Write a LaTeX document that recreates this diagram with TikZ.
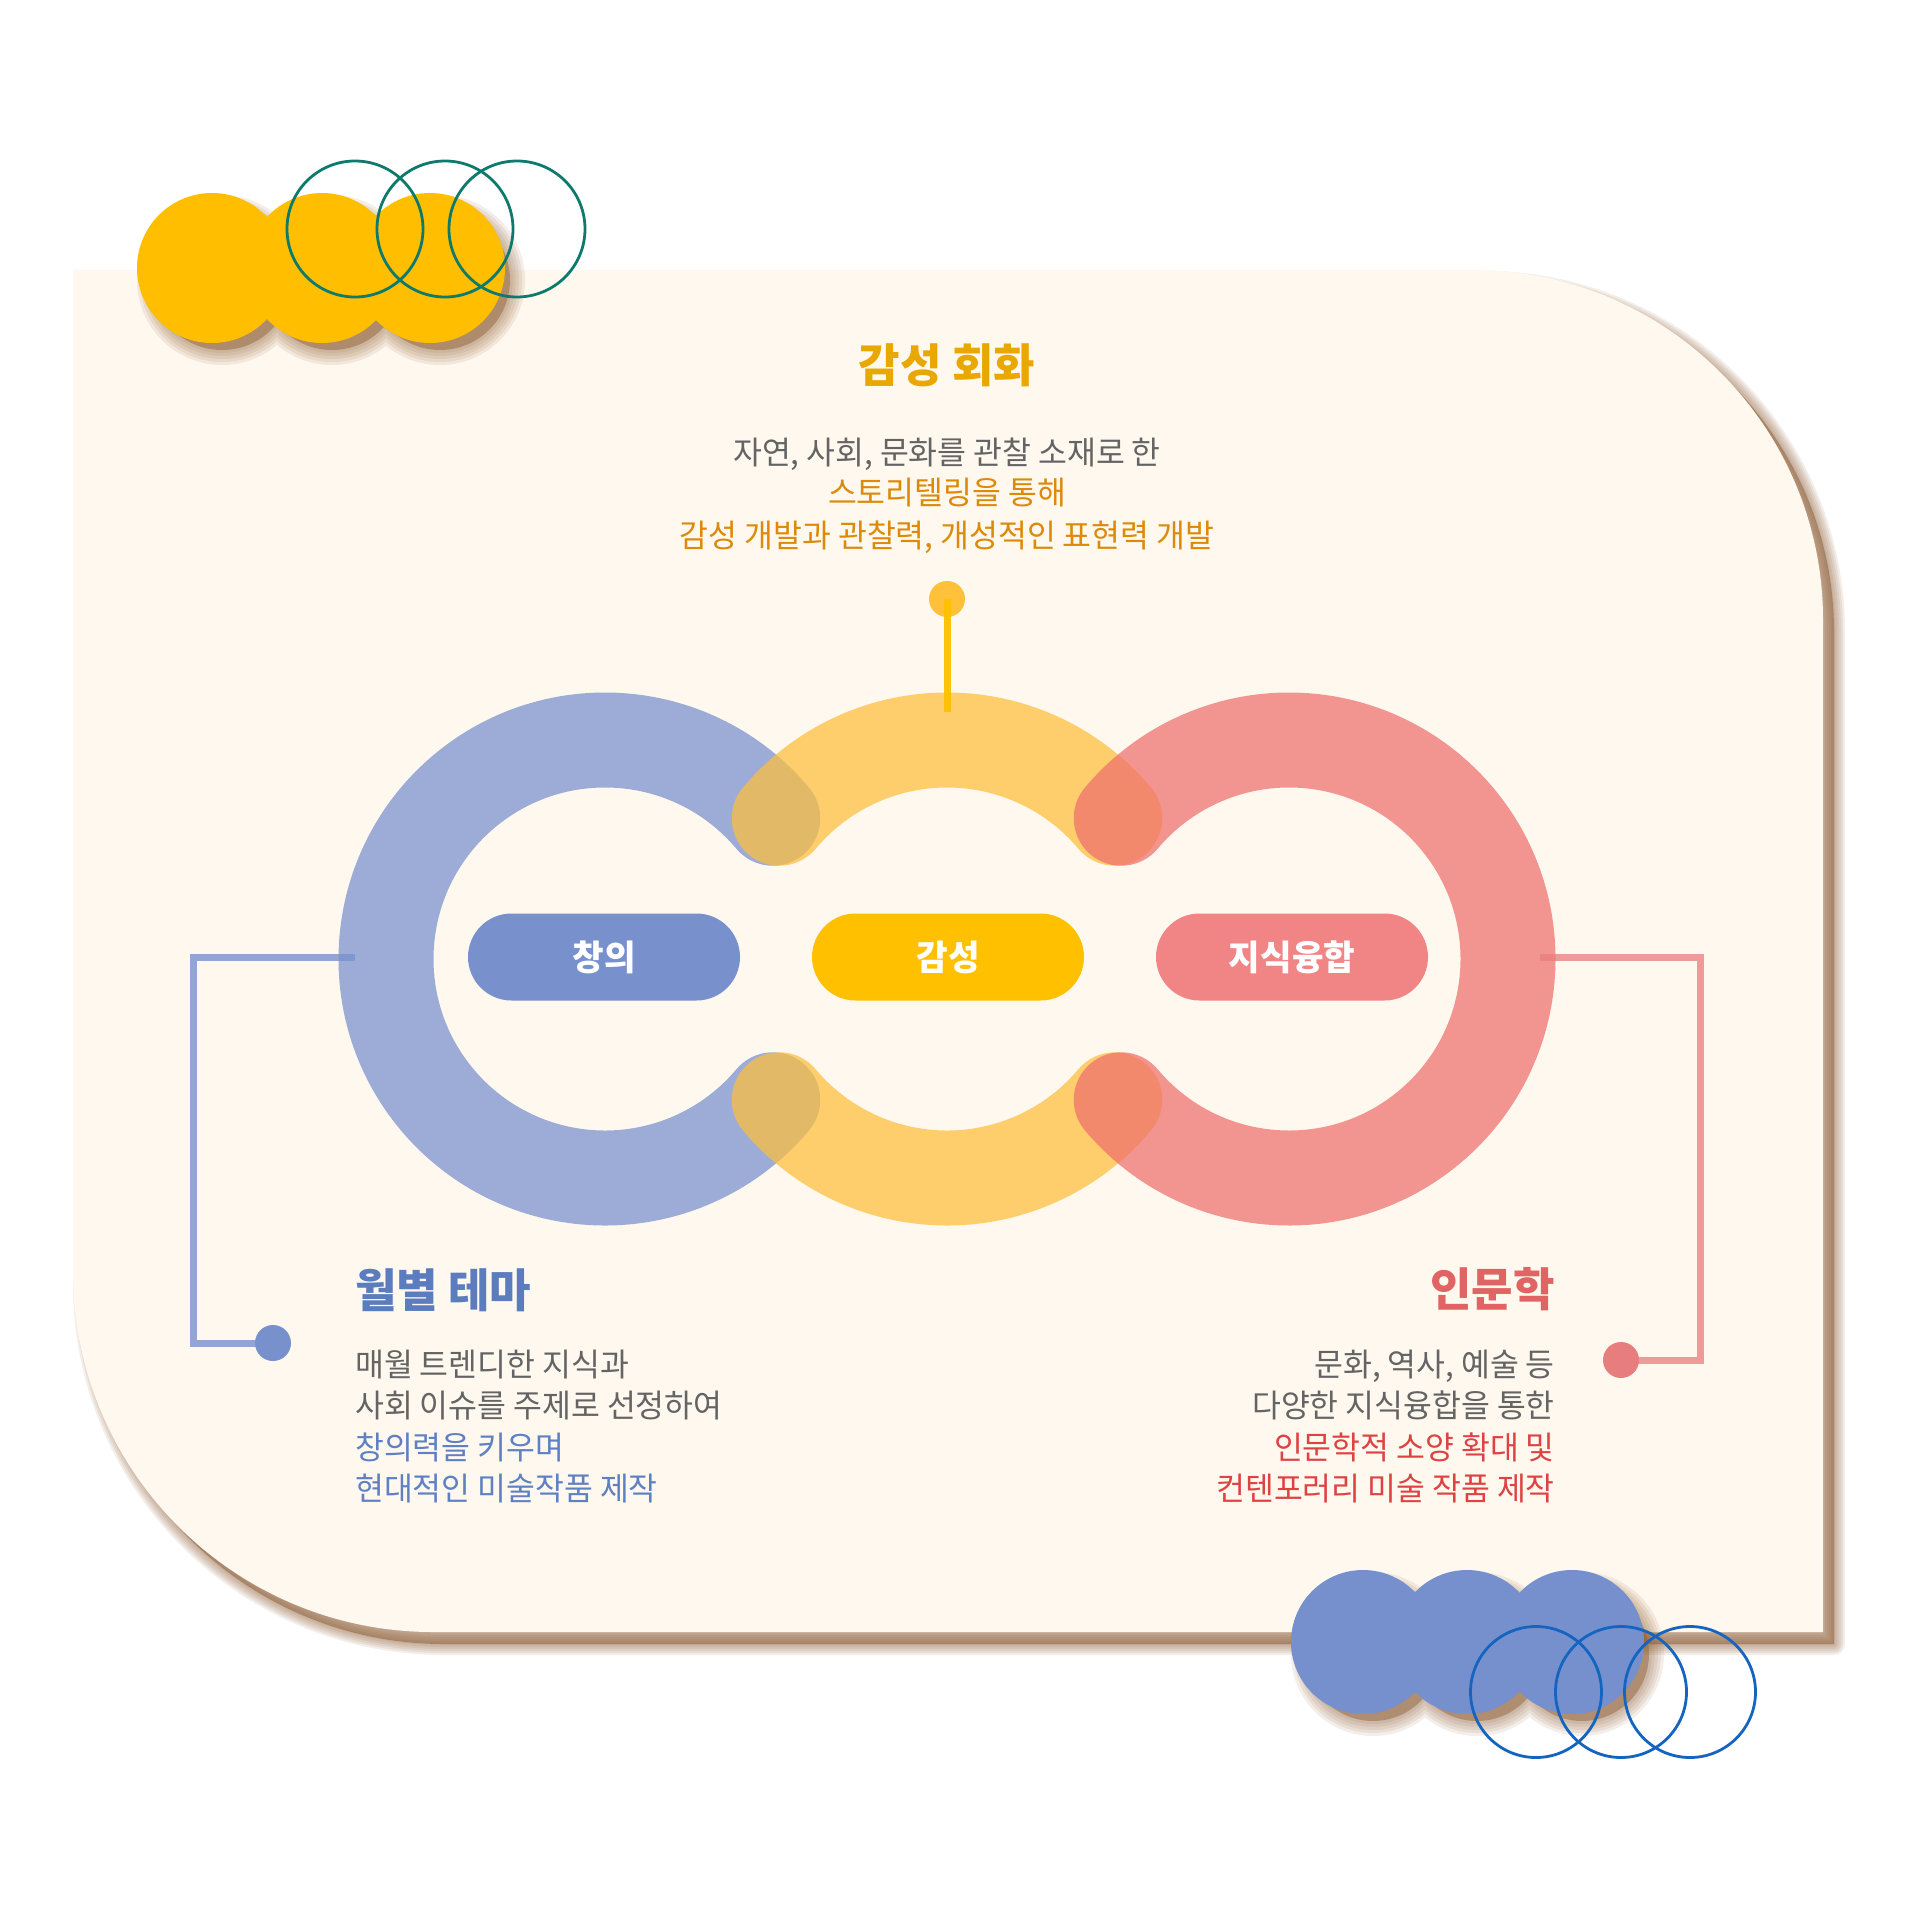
\documentclass[tikz,border=0pt]{standalone}
\usepackage{fontspec}
\setmainfont{Noto Sans CJK KR}[FakeStretch=0.98]
\usetikzlibrary{shapes.misc}
\definecolor{cream}{HTML}{FEF8EE}
\definecolor{shadowc}{HTML}{8A5A30}
\definecolor{ringblue}{HTML}{7890CF}
\definecolor{ringyellow}{HTML}{FEBF3C}
\definecolor{ringred}{HTML}{EE6F6C}
\definecolor{pillblue}{HTML}{7891CD}
\definecolor{pillyellow}{HTML}{FFC000}
\definecolor{pillred}{HTML}{F18585}
\definecolor{titleyellow}{HTML}{E8A800}
\definecolor{textorange}{HTML}{DD8A0A}
\definecolor{textgray}{HTML}{646464}
\definecolor{titleblue}{HTML}{5B7CBF}
\definecolor{textblue}{HTML}{5F80C3}
\definecolor{titlered}{HTML}{E06464}
\definecolor{textred}{HTML}{DE4242}
\definecolor{decoyellow}{HTML}{FFBE00}
\definecolor{decoblue}{HTML}{7590CC}
\definecolor{tealline}{HTML}{0E7A6B}
\definecolor{blueline}{HTML}{1565C0}
\definecolor{dotyellow}{HTML}{FFC03A}
\definecolor{dotred}{HTML}{E87D7D}
\tikzset{
  cardpath/.style={insert path={(73,270) -- (1473,270) arc[start angle=90, end angle=0, radius=350pt] -- (1823,1632) -- (433,1632) arc[start angle=270, end angle=180, radius=360pt] -- cycle}},
  ring/.style={line width=95pt, line cap=round, draw opacity=0.72},
  pill/.style={rounded rectangle, minimum width=272pt, minimum height=87pt, inner sep=0pt, text=white, font=\fontsize{35}{40}\selectfont\bfseries},
  dotnode/.style={circle, minimum size=36pt, inner sep=0pt},
  conn/.style={line width=7pt},
  titletext/.style={inner sep=0pt, font=\fontsize{46}{52}\selectfont\bfseries},
  bodytext/.style={inner sep=0pt, font=\fontsize{32}{42}\selectfont},
  decoring/.style={line width=2.8pt, fill=none},
}
\begin{document}
\begin{tikzpicture}[x=1pt,y=-1pt]
\useasboundingbox (0,0) rectangle (1920,1919);
\fill[white] (0,0) rectangle (1920,1919);

% card shadow
\begin{scope}[shift={(11,12)}]
  \foreach \w in {22,18,14,10,6,2} {\draw[shadowc, opacity=0.1, line width=\w pt, line join=round, cardpath];}
  \fill[shadowc, opacity=0.5, cardpath];
\end{scope}
% card
\fill[cream, cardpath];

% rings
\draw[ring, ringblue] (605,959) ++(40:219pt) arc[start angle=40, end angle=320, radius=219pt];
\draw[ring, ringyellow] (947,959) ++(40:219pt) arc[start angle=40, end angle=140, radius=219pt];
\draw[ring, ringyellow] (947,959) ++(220:219pt) arc[start angle=220, end angle=320, radius=219pt];
\draw[ring, ringred] (1289,959) ++(-140:219pt) arc[start angle=-140, end angle=140, radius=219pt];

% connectors
\node[dotnode, fill=dotyellow] (ydot) at (947,599) {};
\coordinate (yend) at (947,712);
\draw[conn, pillyellow, opacity=0.95] (ydot.center) -- (yend);

\coordinate (bstart) at (355,957);
\coordinate (bcorner) at (193,957);
\draw[conn, pillblue, opacity=0.8] (bstart) -- (bcorner) |- (273,1343);
\node[dotnode, fill=pillblue] (bdot) at (273,1343) {};

\coordinate (rstart) at (1540,957);
\coordinate (rcorner) at (1700,957);
\draw[conn, dotred, opacity=0.75] (rstart) -- (rcorner) |- (1621,1360);
\node[dotnode, fill=dotred] (rdot) at (1621,1360) {};

% pills
\node[pill, fill=pillblue] (pblue) at (604,957) {창의};
\node[pill, fill=pillyellow] (pyellow) at (948,957) {감성};
\node[pill, fill=pillred] (pred) at (1292,957) {지식융합};

% top text
\node[titletext, text=titleyellow, anchor=base] (ttop) at (947,382) {감성 회화};
\node[bodytext, text=textgray, anchor=base] (top1) at (947,464) {자연, 사회, 문화를 관찰 소재로 한};
\node[bodytext, text=textorange, anchor=base] (top2) at (947,504) {스토리텔링을 통해};
\node[bodytext, text=textorange, anchor=base] (top3) at (947,547) {감성 개발과 관찰력, 개성적인 표현력 개발};

% left text
\node[titletext, text=titleblue, anchor=base west] (tleft) at (355,1307) {월별 테마};
\node[bodytext, text=textgray, anchor=base west] (left1) at (355,1376) {매월 트렌디한 지식과};
\node[bodytext, text=textgray, anchor=base west] (left2) at (355,1417) {사회 이슈를 주제로 선정하여};
\node[bodytext, text=textblue, anchor=base west] (left3) at (355,1459) {창의력을 키우며};
\node[bodytext, text=textblue, anchor=base west] (left4) at (355,1500) {현대적인 미술작품 제작};

% right text
\node[titletext, text=titlered, anchor=base east] (tright) at (1555,1306) {인문학};
\node[bodytext, text=textgray, anchor=base east] (right1) at (1555,1376) {문화, 역사, 예술 등};
\node[bodytext, text=textgray, anchor=base east] (right2) at (1555,1417) {다양한 지식융합을 통한};
\node[bodytext, text=textred, anchor=base east] (right3) at (1555,1459) {인문학적 소양 확대 및};
\node[bodytext, text=textred, anchor=base east] (right4) at (1555,1500) {컨텐포러리 미술 작품 제작};

% top-left decoration
\begin{scope}[shift={(10,12)}]
  \foreach \r in {85,82,79,76,73} {\fill[shadowc, opacity=0.1] (212,268) circle[radius=\r pt] (322,268) circle[radius=\r pt] (430,268) circle[radius=\r pt];}
  \fill[shadowc, opacity=0.45] (212,268) circle[radius=70pt] (322,268) circle[radius=70pt] (430,268) circle[radius=70pt];
\end{scope}
\fill[decoyellow] (212,268) circle[radius=75pt] (322,268) circle[radius=75pt] (430,268) circle[radius=75pt];
\draw[decoring, tealline] (355,229) circle[radius=68pt];
\draw[decoring, tealline] (445,229) circle[radius=68pt];
\draw[decoring, tealline] (517,229) circle[radius=68pt];

% bottom-right decoration
\begin{scope}[shift={(10,12)}]
  \foreach \r in {82,79,76,73,70} {\fill[shadowc, opacity=0.1] (1363,1642) circle[radius=\r pt] (1467,1642) circle[radius=\r pt] (1572,1642) circle[radius=\r pt];}
  \fill[shadowc, opacity=0.45] (1363,1642) circle[radius=67pt] (1467,1642) circle[radius=67pt] (1572,1642) circle[radius=67pt];
\end{scope}
\fill[decoblue] (1363,1642) circle[radius=72pt] (1467,1642) circle[radius=72pt] (1572,1642) circle[radius=72pt];
\draw[decoring, blueline] (1536,1692) circle[radius=65.5pt];
\draw[decoring, blueline] (1621,1692) circle[radius=65.5pt];
\draw[decoring, blueline] (1690,1692) circle[radius=65.5pt];
\end{tikzpicture}
\end{document}
